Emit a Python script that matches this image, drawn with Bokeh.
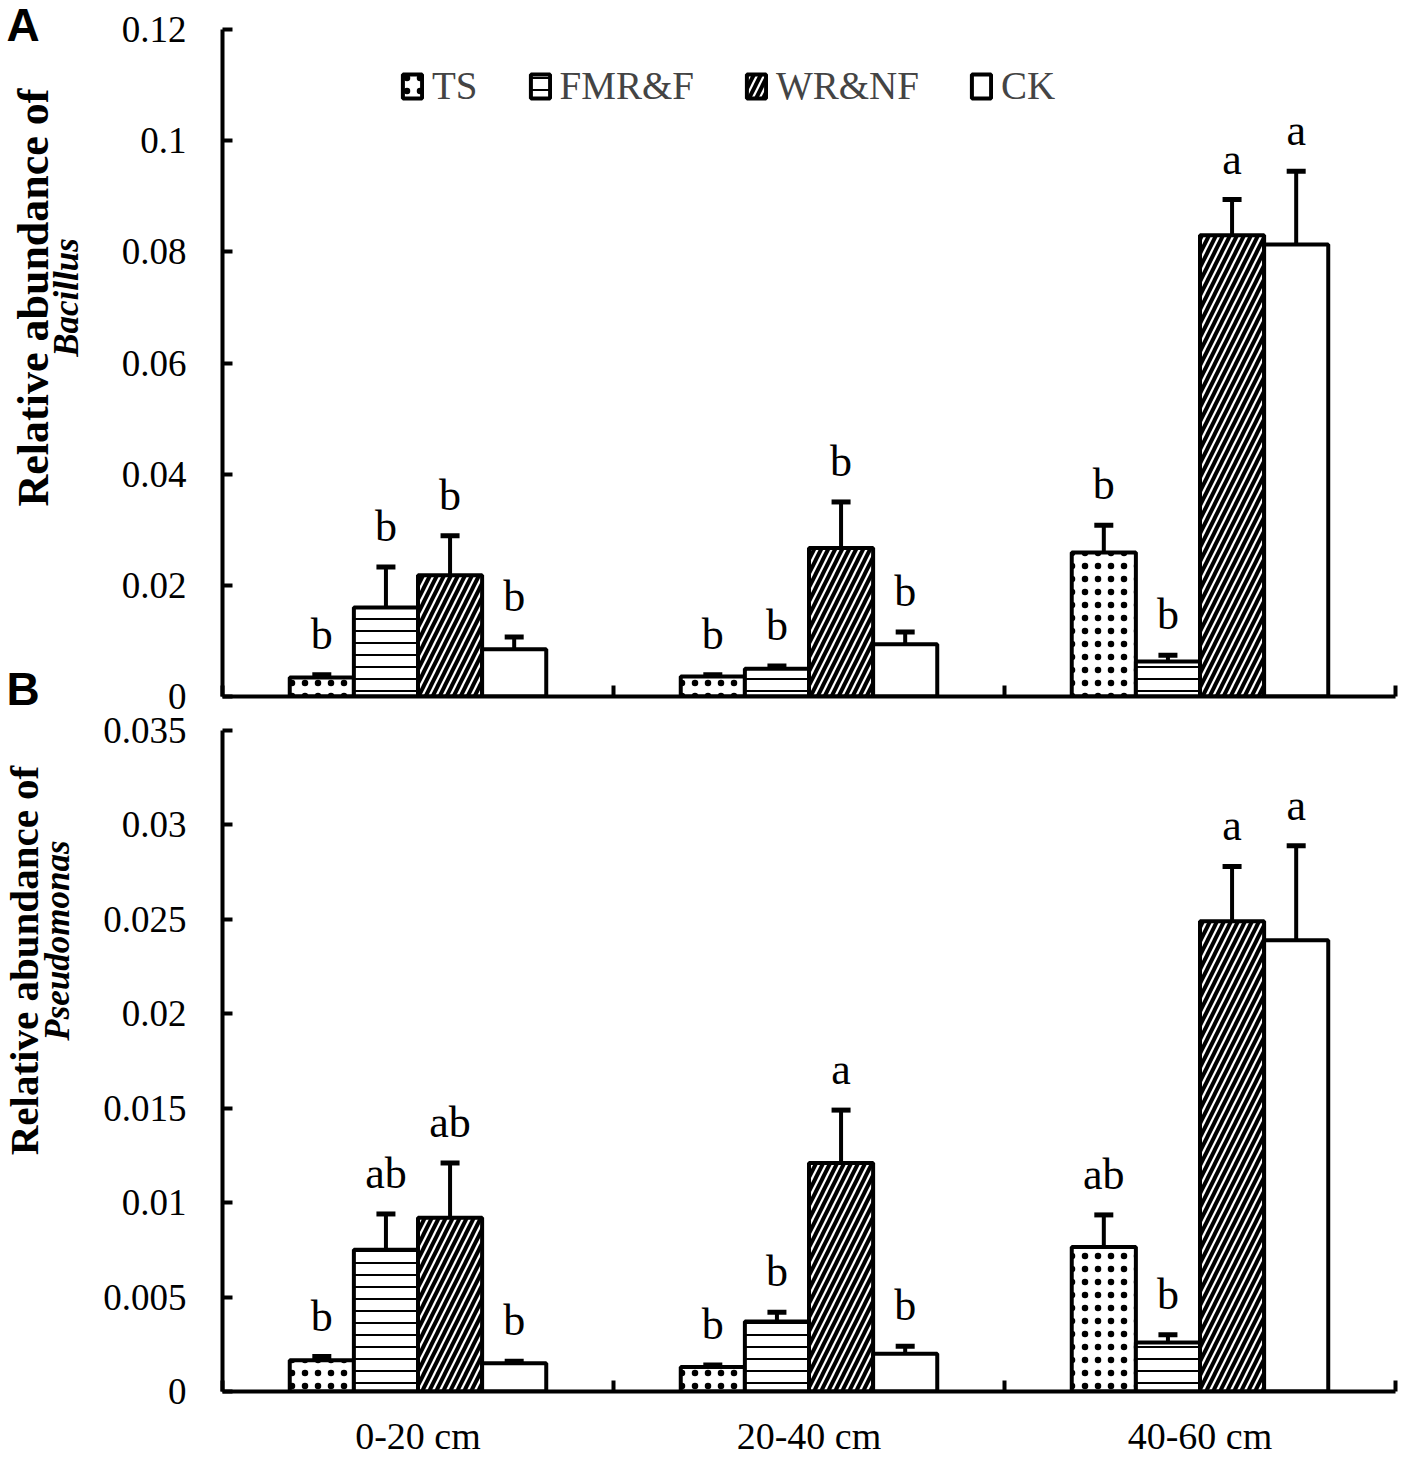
from bokeh.plotting import figure
from bokeh.models import (Range1d, FixedTicker, ColumnDataSource, Whisker, TeeHead,
                          Label, Legend, LegendItem)
from bokeh.layouts import column, row
from bokeh.embed import file_html
from bokeh.resources import INLINE
from bokeh.core.properties import value
import math

SERIF = "Liberation Serif"
SANS = "Liberation Sans"

# ---------------- data ----------------
groups = ["0-20 cm", "20-40 cm", "40-60 cm"]
treatments = ["TS", "FMR&F", "WR&NF", "CK"]

# Panel A: Bacillus
bac_ts = [0.0034, 0.0036, 0.0259]
bac_ts_err = [0.0005, 0.0003, 0.0049]
bac_fmr = [0.0160, 0.0050, 0.0063]
bac_fmr_err = [0.0073, 0.0005, 0.0011]
bac_wr = [0.0218, 0.0267, 0.0830]
bac_wr_err = [0.0071, 0.0083, 0.0064]
bac_ck = [0.0085, 0.0094, 0.0813]
bac_ck_err = [0.0022, 0.0022, 0.0132]
bac_let_ts = ["b", "b", "b"]
bac_let_fmr = ["b", "b", "b"]
bac_let_wr = ["b", "b", "a"]
bac_let_ck = ["b", "b", "a"]
bac_ticks = [0, 0.02, 0.04, 0.06, 0.08, 0.1, 0.12]
bac_tick_labels = ["0", "0.02", "0.04", "0.06", "0.08", "0.1", "0.12"]

# Panel B: Pseudomonas
pse_ts = [0.00165, 0.0013, 0.00765]
pse_ts_err = [0.0002, 0.0001, 0.0017]
pse_fmr = [0.0075, 0.0037, 0.0026]
pse_fmr_err = [0.0019, 0.0005, 0.0004]
pse_wr = [0.0092, 0.0121, 0.0249]
pse_wr_err = [0.0029, 0.0028, 0.0029]
pse_ck = [0.0015, 0.0020, 0.0239]
pse_ck_err = [0.0001, 0.0004, 0.0050]
pse_let_ts = ["b", "b", "ab"]
pse_let_fmr = ["ab", "b", "b"]
pse_let_wr = ["ab", "a", "a"]
pse_let_ck = ["b", "b", "a"]
pse_ticks = [0, 0.005, 0.01, 0.015, 0.02, 0.025, 0.03, 0.035]
pse_tick_labels = ["0", "0.005", "0.01", "0.015", "0.02", "0.025", "0.03", "0.035"]

group_ticks = [0.5, 1.5, 2.5]
boundary_ticks = [0, 1, 2, 3]

# ---------------- styles ----------------
BAR_W = 0.164
STYLES = [
    dict(hatch_pattern="dot", hatch_scale=13, hatch_weight=2.5),
    dict(hatch_pattern="horizontal_line", hatch_scale=12, hatch_weight=2),
    dict(hatch_pattern="right_diagonal_line", hatch_scale=14, hatch_weight=4),
    dict(hatch_pattern=None),
]
TITLE_W = 90
MAIN_W = 1309
FRAME_LEFT = 222
HA, HB = 716, 743


def make_panel(series, errs, letters, ticks, tick_labels, ymax, height, btop, bbottom,
               xlabels=None):
    p = figure(width=MAIN_W, height=height, x_range=Range1d(0, 3), y_range=Range1d(0, ymax),
               output_backend="svg", toolbar_location=None, title=None,
               min_border_left=FRAME_LEFT - TITLE_W, min_border_right=4,
               min_border_top=btop, min_border_bottom=bbottom)
    p.outline_line_color = None
    p.xgrid.visible = False
    p.ygrid.visible = False

    xa = p.xaxis[0]
    if xlabels is None:
        xa.ticker = FixedTicker(ticks=[], minor_ticks=boundary_ticks)
        xa.major_label_standoff = 0
    else:
        xa.ticker = FixedTicker(ticks=group_ticks, minor_ticks=boundary_ticks)
        xa.major_label_overrides = {t: l for t, l in zip(group_ticks, xlabels)}
        xa.major_label_text_font = SERIF
        xa.major_label_text_font_size = "38px"
        xa.major_label_text_color = "black"
        xa.major_label_standoff = 23
    xa.axis_line_width = 4
    xa.axis_line_color = "black"
    xa.minor_tick_in = 11
    xa.minor_tick_out = 0
    xa.minor_tick_line_width = 4
    xa.minor_tick_line_color = "black"
    xa.major_tick_line_color = None
    xa.major_tick_in = 0
    xa.major_tick_out = 0

    ya = p.yaxis[0]
    ya.ticker = FixedTicker(ticks=ticks)
    ya.major_label_overrides = {t: l for t, l in zip(ticks, tick_labels)}
    ya.axis_line_width = 4
    ya.axis_line_color = "black"
    ya.major_tick_in = 10
    ya.major_tick_out = 0
    ya.major_tick_line_width = 4
    ya.major_tick_line_color = "black"
    ya.minor_tick_line_color = None
    ya.major_label_text_font = SERIF
    ya.major_label_text_font_size = "37px"
    ya.major_label_text_color = "black"
    ya.major_label_standoff = 36

    renderers = []
    for k in range(4):
        off = (k - 1.5) * BAR_W
        xs = [i + 0.5 + off for i in range(len(groups))]
        vals = series[k]
        er = errs[k]
        src = ColumnDataSource(dict(
            x=xs, top=vals,
            upper=[v + e for v, e in zip(vals, er)],
            lower=[v - e for v, e in zip(vals, er)],
            letter=letters[k]))
        st = STYLES[k]
        kw = dict(fill_color="white", line_color="black", line_width=4,
                  hatch_color="black")
        if st["hatch_pattern"] is not None:
            kw.update(st)
        r = p.vbar(x="x", top="top", bottom=0, width=BAR_W, source=src, **kw)
        renderers.append(r)
        wh = Whisker(source=src, base="x", upper="upper", lower="lower",
                     dimension="height", line_width=4, line_color="black",
                     upper_head=TeeHead(size=19, line_width=5, line_color="black"),
                     lower_head=TeeHead(size=19, line_width=5, line_color="black"))
        p.add_layout(wh)
        p.text(x="x", y="upper", text="letter", source=src,
               text_font=value(SERIF), text_font_size="44px", text_color="black",
               text_align="center", text_baseline="bottom", y_offset=-16)
    return p, renderers


def title_fig(height):
    t = figure(width=TITLE_W, height=height, x_range=Range1d(0, 1), y_range=Range1d(0, 1),
               output_backend="svg", toolbar_location=None, title=None,
               x_axis_type=None, y_axis_type=None, min_border=0)
    t.outline_line_color = None
    t.xgrid.visible = False
    t.ygrid.visible = False
    if "frame_align" in t.properties():
        t.frame_align = False
    return t


def ytitle(t, line1, line2, x1, y1, x2, y2, size1):
    t.add_layout(Label(x=x1, y=y1, x_units="screen", y_units="screen", text=line1,
                       angle=math.pi / 2, text_align="center", text_baseline="middle",
                       text_font=SERIF, text_font_style="bold", text_font_size=size1,
                       text_color="black"))
    t.add_layout(Label(x=x2, y=y2, x_units="screen", y_units="screen", text=line2,
                       angle=math.pi / 2, text_align="center", text_baseline="middle",
                       text_font=SERIF, text_font_style="bold italic", text_font_size="35px",
                       text_color="black"))


pA, rA = make_panel([bac_ts, bac_fmr, bac_wr, bac_ck],
                    [bac_ts_err, bac_fmr_err, bac_wr_err, bac_ck_err],
                    [bac_let_ts, bac_let_fmr, bac_let_wr, bac_let_ck],
                    bac_ticks, bac_tick_labels, 0.12, HA, 29, HA - 29 - 667)
pB, rB = make_panel([pse_ts, pse_fmr, pse_wr, pse_ck],
                    [pse_ts_err, pse_fmr_err, pse_wr_err, pse_ck_err],
                    [pse_let_ts, pse_let_fmr, pse_let_wr, pse_let_ck],
                    pse_ticks, pse_tick_labels, 0.035, HB, 730 - HA, 66, xlabels=groups)

# legend (panel A)
legend = Legend(items=[LegendItem(label=t, renderers=[r]) for t, r in zip(treatments, rA)],
                orientation="horizontal", location=(178, 588),
                glyph_width=24, glyph_height=30, label_standoff=8, spacing=50,
                padding=0, margin=0, border_line_color=None, background_fill_alpha=0,
                label_text_font=SERIF, label_text_font_size="39px")
pA.add_layout(legend)

tA = title_fig(HA)
tB = title_fig(HB)
ytitle(tA, "Relative abundance of", "Bacillus", 33, HA - 297, 66, HA - 297, "44px")
ytitle(tB, "Relative abundance of", "Pseudomonas", 23, HA + HB - 960, 57, HA + HB - 940,
       "41px")

# panel letters
for txt, base in (("A", 24), ("B", 688)):
    tA.add_layout(Label(x=6, y=HA - base, x_units="screen", y_units="screen", text=txt,
                        text_align="left", text_baseline="alphabetic",
                        text_font=SANS, text_font_style="bold", text_font_size="46px",
                        text_color="black"))

layout = column(row(tA, pA, spacing=0), row(tB, pB, spacing=0), spacing=0)
open("out.html", "w").write(file_html(layout, INLINE))
